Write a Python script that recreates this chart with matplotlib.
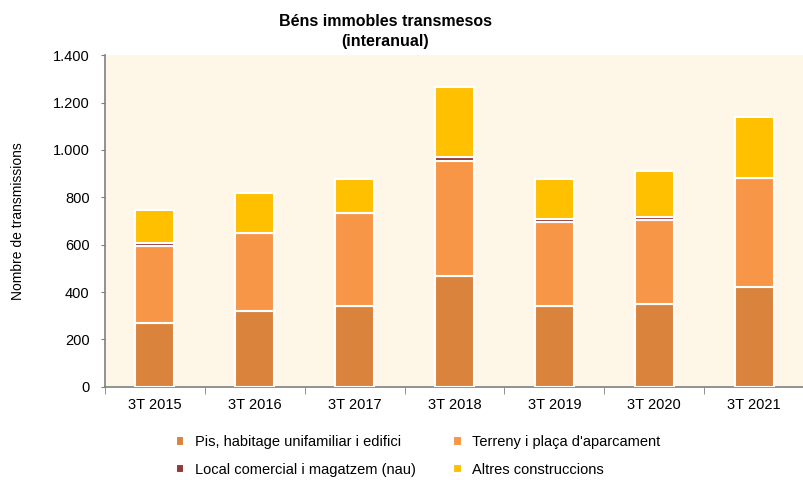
import numpy as np
import matplotlib.pyplot as plt
from matplotlib.ticker import FuncFormatter, FixedLocator

plt.rcParams['font.family'] = ['Liberation Sans', 'DejaVu Sans']

periods = ["3T 2015", "3T 2016", "3T 2017", "3T 2018", "3T 2019", "3T 2020", "3T 2021"]
pis = [271, 320, 343, 469, 343, 351, 420]
terreny = [324, 328, 389, 485, 351, 352, 460]
local = [12, 3, 3, 17, 14, 14, 3]
altres = [140, 169, 141, 293, 168, 195, 257]

series = [
    ("Pis, habitage unifamiliar i edifici", pis, "#DA833C"),
    ("Terreny i plaça d'aparcament", terreny, "#F79646"),
    ("Local comercial i magatzem (nau)", local, "#953735"),
    ("Altres construccions", altres, "#FFC000"),
]

fig = plt.figure(figsize=(8.04, 4.8), dpi=100)
ax = fig.add_axes([0.1306, 0.194, 0.8694, 0.691])
ax.set_facecolor("#FEF6E6")

x = np.arange(len(periods))
bottom = np.zeros(len(periods))
handles = []
for name, vals, col in series:
    vals = np.array(vals, dtype=float)
    b = ax.bar(x, vals, 0.39, bottom=bottom, color=col, edgecolor="white",
               linewidth=1.5, label=name, zorder=3)
    handles.append(b)
    bottom += vals

ax.set_xlim(-0.5, len(periods) - 0.5)
ax.set_ylim(0, 1400)
ax.set_yticks(np.arange(0, 1401, 200))
ax.yaxis.set_major_formatter(FuncFormatter(lambda v, p: f"{int(v):,}".replace(",", ".")))
ax.set_xticks(x)
ax.set_xticklabels(periods)
ax.xaxis.set_minor_locator(FixedLocator(np.arange(-0.5, len(periods), 1.0)))
ax.tick_params(axis="x", which="major", length=0, labelsize=10.5, pad=8)
ax.tick_params(axis="x", which="minor", length=5, color="#808080")
ax.tick_params(axis="y", length=3, color="#808080", labelsize=10.5, pad=8)

for s in ["top", "right"]:
    ax.spines[s].set_visible(False)
for s in ["left", "bottom"]:
    ax.spines[s].set_color("#808080")
    ax.spines[s].set_linewidth(1.2)

ax.set_ylabel("Nombre de transmissions", fontsize=10, labelpad=20)
fig.text(0.479, 0.934, "Béns immobles transmesos\n(interanual)", ha="center",
         va="center", fontsize=11.5, fontweight="bold", linespacing=1.45)

# matplotlib fills legend columns first, so reorder to match the reference rows
order = [0, 2, 1, 3]
fig.legend(handles=[handles[i] for i in order], loc="center",
           bbox_to_anchor=(0.52, 0.05), ncol=2,
           frameon=False, fontsize=10.5, handlelength=0.6, handleheight=0.6,
           columnspacing=2.6, labelspacing=0.95, handletextpad=0.7)

fig.savefig("out.png", dpi=100)
